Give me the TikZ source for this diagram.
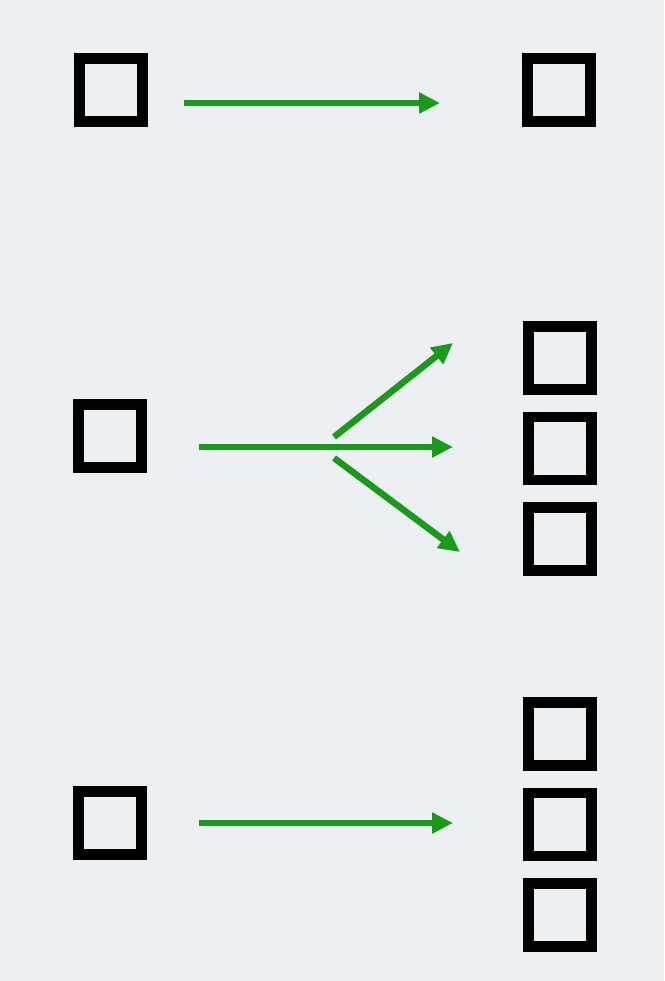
\documentclass[tikz,border=0pt]{standalone}
\usetikzlibrary{positioning,arrows.meta}
\definecolor{slidebg}{HTML}{EDF0F3}
\definecolor{arrowgreen}{HTML}{1A9A1A}

\begin{document}
\begin{tikzpicture}[
          x=1pt,y=1pt,
          node distance=17pt,
          box/.style={rectangle,draw=black,line width=10.5pt,minimum size=63pt,inner sep=0pt},
          flow/.style={draw=arrowgreen,line width=6.5pt,-{Triangle[length=21pt,width=20pt]}}
        ]
        \fill[slidebg] (0,0) rectangle (664,-981);
        % one to one
        \node[box] (lt) at (111,-90) {};
        \node[box] (rt) at (559,-90) {};
        % one to many
        \node[box] (lm) at (110,-436) {};
        \node[box] (rm1) at (560,-358) {};
        \node[box,below=of rm1] (rm2) {};
        \node[box,below=of rm2] (rm3) {};
        % one to a group
        \node[box] (lb) at (110,-823) {};
        \node[box] (rb1) at (560,-734) {};
        \node[box,below=of rb1] (rb2) {};
        \node[box,below=of rb2] (rb3) {};
        \coordinate (t0) at (184,-103);
        \coordinate (t1) at (440,-103);
        \coordinate (m0) at (199,-447);
        \coordinate (m1) at (453,-447);
        \coordinate (up0) at (334,-437);
        \coordinate (up1) at (453,-343);
        \coordinate (dn0) at (334,-458);
        \coordinate (dn1) at (460,-552);
        \coordinate (b0) at (199,-823);
        \coordinate (b1) at (453,-823);
        \draw[flow] (t0) -- (t1);
        \draw[flow] (m0) -- (m1);
        \draw[flow] (up0) -- (up1);
        \draw[flow] (dn0) -- (dn1);
        \draw[flow] (b0) -- (b1);
      \end{tikzpicture}
\end{document}
